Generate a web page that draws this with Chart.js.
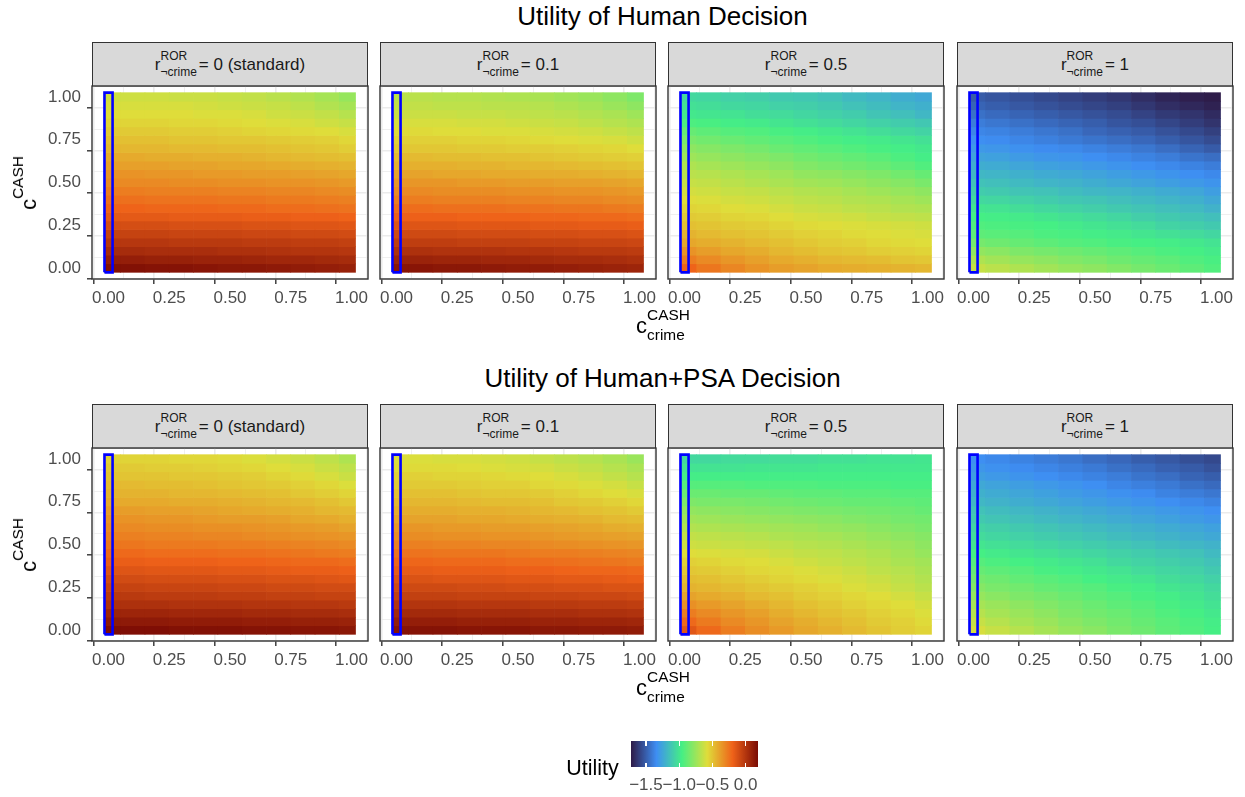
<!DOCTYPE html>
<html><head><meta charset="utf-8">
<script src="https://cdn.jsdelivr.net/npm/chart.js@4.4.1/dist/chart.umd.min.js"></script>
<style>
html,body{margin:0;padding:0;background:#fff;}
body{width:1245px;height:797px;position:relative;overflow:hidden;font-family:"Liberation Sans",Arial,Helvetica,sans-serif;}
canvas{position:absolute;}
.abs{position:absolute;white-space:nowrap;line-height:1;}
.strip{position:absolute;background:#d9d9d9;border:1px solid #333;box-sizing:border-box;}
.scr{display:inline-grid;vertical-align:baseline;}
.scr>span{grid-area:1/1;position:relative;justify-self:start;}
</style>
</head><body>
<script>
// ---------------- data ----------------
const X_VALUES=[0,0.1,0.2,0.3,0.4,0.5,0.6,0.7,0.8,0.9,1];
const Y_VALUES=[0,0.05,0.1,0.15,0.2,0.25,0.3,0.35,0.4,0.45,0.5,0.55,0.6,0.65,0.7,0.75,0.8,0.85,0.9,0.95,1];
const AXIS_TICKS=[0,0.125,0.25,0.375,0.5,0.625,0.75,0.875,1];
const LEGEND_TICKS=[-1.5,-1,-0.5,0];
const FILL_LIMITS=[-1.725,0.185];
const R_LABELS=['0 (standard)','0.1','0.5','1'];
const ROW_TITLES=['Utility of Human Decision','Utility of Human+PSA Decision'];
const HIGHLIGHT_X=0;

// rows: y = 0 ... 1 ; columns: x = 0 ... 1
const HUMAN_R0=[
[0.16,0.16,0.15,0.15,0.14,0.13,0.13,0.12,0.11,0.10,0.09],
[0.10,0.10,0.09,0.09,0.08,0.08,0.07,0.06,0.06,0.05,0.04],
[0.04,0.04,0.03,0.03,0.03,0.02,0.02,0.01,0.00,0.00,-0.01],
[-0.01,-0.01,-0.01,-0.02,-0.02,-0.02,-0.03,-0.03,-0.04,-0.04,-0.05],
[-0.06,-0.06,-0.06,-0.07,-0.07,-0.07,-0.08,-0.08,-0.09,-0.09,-0.10],
[-0.11,-0.11,-0.11,-0.12,-0.12,-0.12,-0.13,-0.13,-0.14,-0.14,-0.15],
[-0.16,-0.16,-0.16,-0.17,-0.17,-0.17,-0.18,-0.18,-0.19,-0.19,-0.20],
[-0.20,-0.20,-0.21,-0.21,-0.21,-0.22,-0.22,-0.23,-0.23,-0.24,-0.25],
[-0.24,-0.24,-0.25,-0.25,-0.25,-0.26,-0.26,-0.27,-0.27,-0.28,-0.29],
[-0.28,-0.28,-0.29,-0.29,-0.29,-0.30,-0.30,-0.31,-0.31,-0.32,-0.33],
[-0.32,-0.32,-0.32,-0.33,-0.33,-0.34,-0.34,-0.35,-0.35,-0.36,-0.37],
[-0.35,-0.35,-0.36,-0.36,-0.37,-0.37,-0.38,-0.38,-0.39,-0.40,-0.41],
[-0.39,-0.39,-0.39,-0.40,-0.40,-0.41,-0.41,-0.42,-0.43,-0.44,-0.45],
[-0.42,-0.42,-0.43,-0.43,-0.44,-0.44,-0.45,-0.46,-0.47,-0.48,-0.49],
[-0.46,-0.46,-0.46,-0.47,-0.47,-0.48,-0.48,-0.49,-0.50,-0.51,-0.53],
[-0.49,-0.49,-0.49,-0.50,-0.50,-0.51,-0.51,-0.52,-0.53,-0.54,-0.56],
[-0.52,-0.52,-0.52,-0.53,-0.53,-0.54,-0.55,-0.56,-0.57,-0.58,-0.60],
[-0.55,-0.55,-0.55,-0.56,-0.56,-0.57,-0.58,-0.59,-0.60,-0.62,-0.64],
[-0.58,-0.58,-0.58,-0.58,-0.59,-0.59,-0.60,-0.62,-0.63,-0.65,-0.68],
[-0.60,-0.60,-0.60,-0.60,-0.61,-0.62,-0.63,-0.64,-0.66,-0.69,-0.72],
[-0.62,-0.62,-0.62,-0.63,-0.63,-0.64,-0.65,-0.67,-0.69,-0.72,-0.76]];

const HUMAN_R01=[
[0.14,0.14,0.13,0.13,0.12,0.11,0.11,0.10,0.09,0.08,0.07],
[0.08,0.08,0.07,0.07,0.06,0.06,0.05,0.04,0.04,0.03,0.02],
[0.02,0.02,0.01,0.01,0.01,0.00,0.00,-0.01,-0.02,-0.02,-0.03],
[-0.04,-0.04,-0.04,-0.05,-0.05,-0.05,-0.06,-0.06,-0.07,-0.07,-0.08],
[-0.09,-0.09,-0.09,-0.10,-0.10,-0.10,-0.11,-0.11,-0.12,-0.12,-0.13],
[-0.14,-0.14,-0.14,-0.15,-0.15,-0.15,-0.16,-0.16,-0.17,-0.17,-0.18],
[-0.19,-0.19,-0.19,-0.20,-0.20,-0.20,-0.21,-0.21,-0.22,-0.22,-0.23],
[-0.23,-0.23,-0.24,-0.24,-0.24,-0.25,-0.25,-0.26,-0.26,-0.27,-0.28],
[-0.28,-0.28,-0.29,-0.29,-0.29,-0.30,-0.30,-0.31,-0.31,-0.32,-0.33],
[-0.32,-0.32,-0.33,-0.33,-0.33,-0.34,-0.34,-0.35,-0.35,-0.36,-0.37],
[-0.36,-0.36,-0.36,-0.37,-0.37,-0.38,-0.38,-0.39,-0.39,-0.40,-0.41],
[-0.40,-0.40,-0.41,-0.41,-0.42,-0.42,-0.43,-0.43,-0.44,-0.45,-0.46],
[-0.44,-0.44,-0.44,-0.45,-0.45,-0.46,-0.46,-0.47,-0.48,-0.49,-0.50],
[-0.47,-0.47,-0.48,-0.48,-0.49,-0.49,-0.50,-0.51,-0.52,-0.53,-0.54],
[-0.51,-0.51,-0.51,-0.52,-0.52,-0.53,-0.53,-0.54,-0.55,-0.56,-0.58],
[-0.54,-0.54,-0.54,-0.55,-0.55,-0.56,-0.57,-0.58,-0.59,-0.60,-0.62],
[-0.57,-0.57,-0.58,-0.58,-0.59,-0.59,-0.60,-0.61,-0.62,-0.64,-0.66],
[-0.60,-0.60,-0.60,-0.61,-0.61,-0.62,-0.63,-0.64,-0.66,-0.68,-0.70],
[-0.63,-0.63,-0.63,-0.64,-0.64,-0.65,-0.66,-0.67,-0.69,-0.71,-0.74],
[-0.65,-0.65,-0.66,-0.66,-0.67,-0.67,-0.68,-0.70,-0.72,-0.75,-0.78],
[-0.67,-0.67,-0.68,-0.68,-0.69,-0.70,-0.71,-0.73,-0.75,-0.78,-0.82]];

const HUMAN_R05=[
[-0.20,-0.26,-0.31,-0.35,-0.38,-0.40,-0.42,-0.43,-0.44,-0.45,-0.46],
[-0.28,-0.32,-0.36,-0.39,-0.42,-0.44,-0.46,-0.47,-0.48,-0.50,-0.51],
[-0.35,-0.38,-0.41,-0.43,-0.46,-0.48,-0.50,-0.51,-0.53,-0.54,-0.55],
[-0.41,-0.43,-0.45,-0.47,-0.49,-0.51,-0.53,-0.54,-0.56,-0.57,-0.58],
[-0.45,-0.47,-0.49,-0.50,-0.52,-0.54,-0.55,-0.57,-0.58,-0.59,-0.60],
[-0.49,-0.50,-0.52,-0.53,-0.55,-0.57,-0.58,-0.59,-0.60,-0.61,-0.62],
[-0.52,-0.53,-0.55,-0.56,-0.58,-0.60,-0.61,-0.62,-0.64,-0.65,-0.66],
[-0.55,-0.56,-0.58,-0.59,-0.61,-0.63,-0.64,-0.66,-0.67,-0.69,-0.70],
[-0.58,-0.59,-0.61,-0.62,-0.64,-0.66,-0.67,-0.69,-0.70,-0.72,-0.74],
[-0.61,-0.62,-0.64,-0.65,-0.67,-0.69,-0.70,-0.72,-0.74,-0.76,-0.78],
[-0.64,-0.65,-0.67,-0.69,-0.71,-0.73,-0.74,-0.76,-0.78,-0.80,-0.83],
[-0.67,-0.68,-0.70,-0.72,-0.74,-0.77,-0.78,-0.80,-0.82,-0.85,-0.88],
[-0.70,-0.72,-0.74,-0.76,-0.78,-0.81,-0.83,-0.85,-0.87,-0.90,-0.93],
[-0.74,-0.76,-0.78,-0.80,-0.82,-0.85,-0.87,-0.89,-0.91,-0.94,-0.97],
[-0.78,-0.80,-0.82,-0.84,-0.87,-0.89,-0.91,-0.93,-0.95,-0.97,-0.99],
[-0.83,-0.85,-0.87,-0.89,-0.91,-0.93,-0.95,-0.97,-0.98,-1.00,-1.02],
[-0.88,-0.90,-0.92,-0.93,-0.95,-0.97,-0.99,-1.01,-1.03,-1.05,-1.07],
[-0.94,-0.95,-0.97,-0.98,-1.00,-1.02,-1.04,-1.06,-1.08,-1.10,-1.12],
[-0.99,-1.00,-1.01,-1.03,-1.04,-1.06,-1.08,-1.10,-1.13,-1.15,-1.18],
[-1.02,-1.03,-1.05,-1.06,-1.08,-1.09,-1.11,-1.14,-1.16,-1.19,-1.21],
[-1.05,-1.06,-1.08,-1.09,-1.11,-1.12,-1.14,-1.17,-1.19,-1.22,-1.24]];

const HUMAN_R1=[
[-0.64,-0.67,-0.70,-0.73,-0.76,-0.78,-0.81,-0.84,-0.87,-0.90,-0.93],
[-0.70,-0.73,-0.76,-0.78,-0.81,-0.83,-0.86,-0.88,-0.90,-0.93,-0.95],
[-0.77,-0.79,-0.82,-0.84,-0.86,-0.88,-0.90,-0.92,-0.94,-0.96,-0.98],
[-0.84,-0.86,-0.88,-0.90,-0.92,-0.93,-0.95,-0.96,-0.97,-0.99,-1.01],
[-0.90,-0.91,-0.92,-0.94,-0.95,-0.97,-0.98,-1.00,-1.02,-1.04,-1.06],
[-0.93,-0.94,-0.95,-0.96,-0.98,-1.00,-1.02,-1.04,-1.07,-1.09,-1.11],
[-0.96,-0.97,-0.98,-1.00,-1.02,-1.04,-1.06,-1.09,-1.11,-1.13,-1.15],
[-1.00,-1.01,-1.03,-1.05,-1.07,-1.09,-1.11,-1.13,-1.15,-1.17,-1.20],
[-1.05,-1.06,-1.08,-1.10,-1.12,-1.13,-1.15,-1.17,-1.19,-1.21,-1.24],
[-1.10,-1.11,-1.13,-1.14,-1.16,-1.18,-1.19,-1.21,-1.23,-1.25,-1.28],
[-1.14,-1.15,-1.17,-1.19,-1.20,-1.22,-1.24,-1.26,-1.28,-1.30,-1.32],
[-1.18,-1.19,-1.21,-1.23,-1.24,-1.26,-1.28,-1.30,-1.32,-1.34,-1.36],
[-1.22,-1.23,-1.25,-1.27,-1.28,-1.30,-1.32,-1.34,-1.36,-1.38,-1.40],
[-1.26,-1.27,-1.29,-1.31,-1.32,-1.34,-1.36,-1.38,-1.40,-1.43,-1.45],
[-1.30,-1.31,-1.33,-1.35,-1.36,-1.38,-1.40,-1.42,-1.45,-1.48,-1.51],
[-1.34,-1.35,-1.37,-1.39,-1.41,-1.43,-1.45,-1.47,-1.50,-1.53,-1.56],
[-1.37,-1.38,-1.40,-1.42,-1.44,-1.47,-1.49,-1.51,-1.54,-1.57,-1.60],
[-1.40,-1.42,-1.44,-1.46,-1.48,-1.50,-1.53,-1.55,-1.58,-1.61,-1.64],
[-1.44,-1.46,-1.48,-1.50,-1.52,-1.54,-1.56,-1.59,-1.62,-1.64,-1.67],
[-1.48,-1.50,-1.52,-1.54,-1.56,-1.58,-1.60,-1.63,-1.66,-1.68,-1.70],
[-1.51,-1.53,-1.55,-1.57,-1.59,-1.61,-1.63,-1.66,-1.69,-1.71,-1.72]];

const PSA_R0=[
[0.17,0.17,0.17,0.16,0.16,0.16,0.15,0.15,0.14,0.14,0.13],
[0.12,0.12,0.12,0.11,0.11,0.11,0.10,0.10,0.09,0.09,0.08],
[0.07,0.07,0.07,0.06,0.06,0.06,0.05,0.05,0.04,0.04,0.03],
[0.02,0.02,0.02,0.01,0.01,0.01,0.00,0.00,-0.01,-0.01,-0.02],
[-0.02,-0.02,-0.03,-0.03,-0.03,-0.04,-0.04,-0.05,-0.05,-0.06,-0.06],
[-0.06,-0.06,-0.07,-0.07,-0.07,-0.08,-0.08,-0.09,-0.09,-0.10,-0.10],
[-0.10,-0.10,-0.11,-0.11,-0.11,-0.12,-0.12,-0.13,-0.13,-0.14,-0.15],
[-0.14,-0.14,-0.15,-0.15,-0.15,-0.16,-0.16,-0.17,-0.18,-0.18,-0.19],
[-0.18,-0.18,-0.19,-0.19,-0.19,-0.20,-0.20,-0.21,-0.22,-0.22,-0.23],
[-0.22,-0.22,-0.23,-0.23,-0.23,-0.24,-0.24,-0.25,-0.26,-0.27,-0.28],
[-0.26,-0.26,-0.27,-0.27,-0.27,-0.28,-0.28,-0.29,-0.30,-0.31,-0.32],
[-0.29,-0.29,-0.30,-0.30,-0.31,-0.31,-0.32,-0.33,-0.34,-0.35,-0.36],
[-0.32,-0.32,-0.33,-0.33,-0.34,-0.34,-0.35,-0.36,-0.37,-0.38,-0.40],
[-0.35,-0.35,-0.36,-0.36,-0.37,-0.38,-0.38,-0.39,-0.41,-0.42,-0.44],
[-0.38,-0.38,-0.39,-0.39,-0.40,-0.41,-0.42,-0.43,-0.44,-0.46,-0.47],
[-0.42,-0.42,-0.42,-0.43,-0.43,-0.44,-0.45,-0.46,-0.47,-0.49,-0.51],
[-0.45,-0.45,-0.45,-0.46,-0.46,-0.47,-0.48,-0.49,-0.51,-0.53,-0.55],
[-0.47,-0.47,-0.48,-0.48,-0.49,-0.50,-0.51,-0.52,-0.54,-0.56,-0.59],
[-0.50,-0.50,-0.50,-0.51,-0.51,-0.52,-0.53,-0.55,-0.57,-0.60,-0.63],
[-0.52,-0.52,-0.53,-0.53,-0.54,-0.55,-0.56,-0.58,-0.60,-0.63,-0.66],
[-0.55,-0.55,-0.55,-0.56,-0.56,-0.57,-0.59,-0.61,-0.63,-0.66,-0.70]];

const PSA_R01=[
[0.15,0.15,0.15,0.14,0.14,0.14,0.13,0.13,0.12,0.12,0.11],
[0.10,0.10,0.10,0.09,0.09,0.09,0.08,0.08,0.07,0.07,0.06],
[0.05,0.05,0.05,0.04,0.04,0.04,0.03,0.03,0.02,0.02,0.01],
[0.00,0.00,0.00,-0.01,-0.01,-0.01,-0.02,-0.02,-0.03,-0.03,-0.04],
[-0.05,-0.05,-0.05,-0.06,-0.06,-0.06,-0.07,-0.07,-0.08,-0.08,-0.09],
[-0.09,-0.09,-0.09,-0.10,-0.10,-0.11,-0.11,-0.12,-0.12,-0.13,-0.13],
[-0.13,-0.13,-0.14,-0.14,-0.14,-0.15,-0.15,-0.16,-0.16,-0.17,-0.18],
[-0.17,-0.17,-0.18,-0.18,-0.18,-0.19,-0.19,-0.20,-0.21,-0.21,-0.22],
[-0.21,-0.21,-0.22,-0.22,-0.22,-0.23,-0.23,-0.24,-0.25,-0.26,-0.27],
[-0.25,-0.25,-0.26,-0.26,-0.26,-0.27,-0.28,-0.28,-0.29,-0.30,-0.31],
[-0.29,-0.29,-0.30,-0.30,-0.31,-0.31,-0.32,-0.33,-0.34,-0.35,-0.36],
[-0.33,-0.33,-0.34,-0.34,-0.35,-0.35,-0.36,-0.37,-0.38,-0.39,-0.40],
[-0.36,-0.36,-0.37,-0.37,-0.38,-0.38,-0.39,-0.40,-0.41,-0.43,-0.44],
[-0.40,-0.40,-0.40,-0.41,-0.41,-0.42,-0.43,-0.44,-0.45,-0.47,-0.48],
[-0.43,-0.43,-0.43,-0.44,-0.44,-0.45,-0.46,-0.47,-0.49,-0.50,-0.52],
[-0.46,-0.46,-0.46,-0.47,-0.48,-0.48,-0.49,-0.51,-0.52,-0.54,-0.56],
[-0.49,-0.49,-0.49,-0.50,-0.51,-0.51,-0.52,-0.54,-0.56,-0.58,-0.60],
[-0.52,-0.52,-0.52,-0.53,-0.54,-0.54,-0.56,-0.57,-0.59,-0.61,-0.64],
[-0.54,-0.54,-0.55,-0.55,-0.56,-0.57,-0.58,-0.60,-0.62,-0.65,-0.68],
[-0.57,-0.57,-0.57,-0.58,-0.59,-0.60,-0.61,-0.63,-0.65,-0.68,-0.71],
[-0.59,-0.59,-0.60,-0.60,-0.61,-0.62,-0.64,-0.66,-0.68,-0.71,-0.75]];

const PSA_R05=[
[-0.15,-0.22,-0.28,-0.33,-0.37,-0.41,-0.44,-0.47,-0.50,-0.53,-0.55],
[-0.22,-0.27,-0.32,-0.36,-0.40,-0.43,-0.46,-0.49,-0.52,-0.54,-0.57],
[-0.28,-0.32,-0.36,-0.39,-0.43,-0.46,-0.49,-0.51,-0.54,-0.56,-0.59],
[-0.34,-0.37,-0.40,-0.43,-0.46,-0.49,-0.51,-0.54,-0.56,-0.58,-0.61],
[-0.40,-0.42,-0.44,-0.47,-0.49,-0.52,-0.54,-0.56,-0.58,-0.61,-0.64],
[-0.45,-0.46,-0.48,-0.50,-0.52,-0.54,-0.56,-0.59,-0.61,-0.64,-0.67],
[-0.48,-0.49,-0.51,-0.53,-0.55,-0.57,-0.59,-0.61,-0.63,-0.66,-0.69],
[-0.51,-0.52,-0.54,-0.56,-0.57,-0.59,-0.61,-0.63,-0.66,-0.68,-0.71],
[-0.54,-0.55,-0.57,-0.58,-0.60,-0.62,-0.64,-0.66,-0.68,-0.71,-0.73],
[-0.58,-0.59,-0.60,-0.61,-0.63,-0.65,-0.66,-0.68,-0.70,-0.73,-0.76],
[-0.62,-0.63,-0.64,-0.65,-0.66,-0.68,-0.69,-0.71,-0.73,-0.75,-0.78],
[-0.65,-0.66,-0.67,-0.68,-0.70,-0.71,-0.72,-0.74,-0.76,-0.78,-0.80],
[-0.69,-0.70,-0.71,-0.72,-0.73,-0.74,-0.76,-0.77,-0.79,-0.81,-0.83],
[-0.73,-0.74,-0.75,-0.76,-0.77,-0.78,-0.79,-0.81,-0.82,-0.84,-0.85],
[-0.77,-0.78,-0.79,-0.80,-0.81,-0.82,-0.83,-0.84,-0.85,-0.86,-0.88],
[-0.82,-0.83,-0.83,-0.84,-0.85,-0.86,-0.87,-0.88,-0.88,-0.89,-0.90],
[-0.87,-0.87,-0.88,-0.88,-0.89,-0.90,-0.90,-0.91,-0.91,-0.92,-0.92],
[-0.92,-0.92,-0.92,-0.93,-0.93,-0.93,-0.94,-0.94,-0.94,-0.95,-0.95],
[-0.97,-0.97,-0.97,-0.97,-0.97,-0.97,-0.97,-0.97,-0.97,-0.97,-0.97],
[-1.01,-1.01,-1.01,-1.00,-1.00,-1.00,-0.99,-0.99,-0.99,-0.99,-0.99],
[-1.05,-1.05,-1.04,-1.04,-1.03,-1.03,-1.02,-1.02,-1.01,-1.01,-1.00]];

const PSA_R1=[
[-0.60,-0.64,-0.68,-0.72,-0.76,-0.79,-0.83,-0.86,-0.90,-0.93,-0.96],
[-0.64,-0.68,-0.72,-0.75,-0.79,-0.82,-0.85,-0.88,-0.91,-0.94,-0.97],
[-0.68,-0.72,-0.75,-0.78,-0.82,-0.85,-0.87,-0.90,-0.93,-0.96,-0.99],
[-0.72,-0.75,-0.78,-0.81,-0.84,-0.87,-0.90,-0.92,-0.95,-0.98,-1.01],
[-0.76,-0.79,-0.82,-0.84,-0.87,-0.90,-0.92,-0.95,-0.97,-1.00,-1.03],
[-0.80,-0.83,-0.85,-0.88,-0.90,-0.92,-0.95,-0.97,-1.00,-1.02,-1.05],
[-0.84,-0.86,-0.89,-0.91,-0.93,-0.96,-0.98,-1.00,-1.03,-1.05,-1.08],
[-0.88,-0.90,-0.92,-0.95,-0.97,-0.99,-1.01,-1.04,-1.06,-1.08,-1.11],
[-0.92,-0.94,-0.96,-0.98,-1.00,-1.02,-1.05,-1.07,-1.09,-1.11,-1.14],
[-0.96,-0.98,-1.00,-1.02,-1.04,-1.06,-1.08,-1.10,-1.12,-1.14,-1.17],
[-1.00,-1.02,-1.04,-1.06,-1.08,-1.10,-1.12,-1.14,-1.16,-1.18,-1.20],
[-1.04,-1.06,-1.08,-1.10,-1.12,-1.14,-1.16,-1.18,-1.20,-1.22,-1.24],
[-1.07,-1.09,-1.11,-1.13,-1.15,-1.17,-1.19,-1.21,-1.23,-1.25,-1.27],
[-1.11,-1.13,-1.15,-1.17,-1.19,-1.21,-1.23,-1.25,-1.27,-1.29,-1.31],
[-1.14,-1.16,-1.18,-1.20,-1.22,-1.24,-1.26,-1.28,-1.30,-1.32,-1.34],
[-1.18,-1.20,-1.22,-1.24,-1.26,-1.28,-1.30,-1.32,-1.34,-1.36,-1.38],
[-1.21,-1.23,-1.25,-1.27,-1.29,-1.31,-1.33,-1.35,-1.38,-1.40,-1.42],
[-1.24,-1.26,-1.28,-1.30,-1.32,-1.34,-1.37,-1.39,-1.41,-1.44,-1.46],
[-1.28,-1.30,-1.32,-1.34,-1.36,-1.38,-1.40,-1.43,-1.45,-1.48,-1.50],
[-1.31,-1.33,-1.35,-1.37,-1.39,-1.41,-1.44,-1.46,-1.49,-1.51,-1.54],
[-1.34,-1.36,-1.38,-1.40,-1.42,-1.45,-1.47,-1.50,-1.52,-1.55,-1.57]];

const PANELS=[[HUMAN_R0,HUMAN_R01,HUMAN_R05,HUMAN_R1],[PSA_R0,PSA_R01,PSA_R05,PSA_R1]];

// ---------------- style / layout ----------------
const COLOR_STOPS=[[0,[46,26,71]],[0.2,[62,142,243]],[0.4,[69,239,132]],[0.6,[223,221,58]],[0.8,[239,98,25]],[1,[122,11,4]]];
const PANEL_LEFT=[92,380,668,957], PANEL_W=276, ROW_TOP=[86,448], PANEL_H=193, STRIP_H=44, ROW_SHIFT=362;
const TILE_HALF_X=1/60;
const X_LIM=[-0.068,1.068], Y_LIM=[-0.064,1.064];

function fillColor(v){
  let t=(v-FILL_LIMITS[0])/(FILL_LIMITS[1]-FILL_LIMITS[0]);
  t=Math.max(0,Math.min(1,t));
  for(let k=1;k<COLOR_STOPS.length;k++){
    const [t1,c1]=COLOR_STOPS[k], [t0,c0]=COLOR_STOPS[k-1];
    if(t<=t1){const f=(t-t0)/(t1-t0);
      return 'rgb('+c0.map((c,i)=>Math.round(c+(c1[i]-c)*f)).join(',')+')';}
  }
  return 'rgb('+COLOR_STOPS[COLOR_STOPS.length-1][1].join(',')+')';
}
const isMajor=v=>Math.abs(v*4-Math.round(v*4))<1e-9;

// tile edges along x (midpoints between sampled columns)
const X_EDGES=[X_VALUES[0]-TILE_HALF_X];
for(let k=1;k<X_VALUES.length;k++) X_EDGES.push((X_VALUES[k-1]+X_VALUES[k])/2);
X_EDGES.push(X_VALUES[X_VALUES.length-1]+TILE_HALF_X);
const TILE_HALF_Y=(Y_VALUES[1]-Y_VALUES[0])/2;

Chart.defaults.font.family='"Liberation Sans", Arial, Helvetica, sans-serif';
Chart.defaults.font.size=17;
Chart.defaults.color='#4d4d4d';

const panelBorder={id:'panelBorder',afterDraw(chart){
  const a=chart.chartArea,ctx=chart.ctx;ctx.save();ctx.strokeStyle='#333333';ctx.lineWidth=1.4;
  ctx.strokeRect(a.left,a.top,a.right-a.left,a.bottom-a.top);ctx.restore();}};

function makePanel(grid,row,col){
  const PAD_L=60,PAD_T=25,PAD_R=25,PAD_B=45,Y_W=col===0?60:0,X_H=30;
  const cv=document.createElement('canvas');
  cv.width=PANEL_W+PAD_L+PAD_R; cv.height=PANEL_H+PAD_T+PAD_B;
  cv.style.left=(PANEL_LEFT[col]-PAD_L)+'px'; cv.style.top=(ROW_TOP[row]-PAD_T)+'px';
  document.body.appendChild(cv);
  const cells=[],colors=[];
  Y_VALUES.forEach((y,i)=>X_VALUES.forEach((x,j)=>{
    cells.push({x:[X_EDGES[j],X_EDGES[j+1]],y:y}); colors.push(fillColor(grid[i][j]));}));
  const rx0=HIGHLIGHT_X-TILE_HALF_X, rx1=HIGHLIGHT_X+TILE_HALF_X;
  const ry0=Y_VALUES[0]-TILE_HALF_Y, ry1=Y_VALUES[Y_VALUES.length-1]+TILE_HALF_Y;
  const gridOpts=(showTicks)=>({color:'#ebebeb',lineWidth:c=>(c.tick&&isMajor(c.tick.value))?1.6:0.8,
    drawTicks:showTicks,tickLength:5,tickWidth:1.4,
    tickColor:c=>(c.tick&&isMajor(c.tick.value))?'#333333':'rgba(0,0,0,0)'});
  new Chart(cv,{type:'bar',
    data:{datasets:[
      {type:'bar',indexAxis:'y',data:cells,backgroundColor:colors,borderWidth:0,
       barPercentage:1,categoryPercentage:1,order:2,xAxisID:'x',yAxisID:'y'},
      {type:'scatter',data:[{x:rx0,y:ry0},{x:rx1,y:ry0},{x:rx1,y:ry1},{x:rx0,y:ry1},{x:rx0,y:ry0}],
       showLine:true,borderColor:'#0000ff',borderWidth:2.6,pointRadius:0,borderJoinStyle:'miter',
       fill:false,order:1,xAxisID:'x',yAxisID:'y'}]},
    options:{responsive:false,animation:false,events:[],
      layout:{autoPadding:false,padding:{left:PAD_L-Y_W,right:PAD_R,top:PAD_T,bottom:PAD_B-X_H}},
      plugins:{legend:{display:false},tooltip:{enabled:false}},
      scales:{
        x:{type:'linear',min:X_LIM[0],max:X_LIM[1],offset:false,
          afterBuildTicks:s=>{s.ticks=AXIS_TICKS.map(v=>({value:v}));},
          afterFit:s=>{s.height=X_H;},
          ticks:{autoSkip:false,maxRotation:0,minRotation:0,padding:4,color:'#4d4d4d',
            callback:v=>isMajor(v)?v.toFixed(2):''},
          grid:gridOpts(true),border:{display:false}},
        y:{type:'linear',min:Y_LIM[0],max:Y_LIM[1],offset:false,
          afterBuildTicks:s=>{s.ticks=AXIS_TICKS.map(v=>({value:v}));},
          afterFit:s=>{s.width=Y_W;},
          ticks:{display:col===0,autoSkip:false,padding:6,color:'#4d4d4d',
            callback:v=>isMajor(v)?v.toFixed(2):''},
          grid:gridOpts(col===0),border:{display:false}}
      }},
    plugins:[panelBorder]});
}

// ---------------- text helpers ----------------
function addText(html,left,baseline,size,extra){
  const d=document.createElement('div');d.className='abs';
  d.style.fontSize=size+'px';d.style.left=left+'px';d.style.top=(baseline-0.8465*size)+'px';
  d.style.transform='translateX(-50%)';d.innerHTML=html;
  if(extra) Object.assign(d.style,extra);
  document.body.appendChild(d);return d;
}
function scripts(sup,sub,size,rise,drop){
  let h='<span class="scr" style="font-size:'+size+'px">';
  if(sup) h+='<span style="top:'+(-rise)+'px">'+sup+'</span>';
  if(sub) h+='<span style="top:'+drop+'px">'+sub+'</span>';
  return h+'</span>';
}

for(let row=0;row<2;row++){
  const off=row*ROW_SHIFT;
  addText(ROW_TITLES[row],662.5,25+off,26,{color:'#000'});
  for(let col=0;col<4;col++){
    const s=document.createElement('div');s.className='strip';
    s.style.left=PANEL_LEFT[col]+'px';s.style.top=(ROW_TOP[row]-STRIP_H)+'px';
    s.style.width=PANEL_W+'px';s.style.height=(STRIP_H+1)+'px';
    document.body.appendChild(s);
    addText('r'+scripts('ROR','\u00accrime',12,10,5.3)+'<span style="margin-left:2px">=</span> '+R_LABELS[col],
      PANEL_LEFT[col]+PANEL_W/2,70.7+off,17,{color:'#1a1a1a'});
  }
  for(let col=0;col<4;col++) makePanel(PANELS[row][col],row,col);
  // x-axis title
  addText('c'+scripts('CASH','crime',15.4,12.6,7.4),663,333.3+off,22,{color:'#000'});
  // y-axis title (rotated)
  const yt=document.createElement('div');yt.className='abs';yt.style.fontSize='22px';
  yt.style.left='29.1px';yt.style.top=(ROW_TOP[row]+PANEL_H/2)+'px';
  yt.style.transform='translate(-50%,-50%) rotate(-90deg)';
  yt.innerHTML='c'+scripts('CASH','',15.4,12.6,0);
  document.body.appendChild(yt);
}

// ---------------- colour bar legend ----------------
const BAR_L=631,BAR_W=127,BAR_T=741,BAR_H=26;
const bar=document.createElement('div');bar.className='abs';
Object.assign(bar.style,{left:BAR_L+'px',top:BAR_T+'px',width:BAR_W+'px',height:BAR_H+'px',
  background:'linear-gradient(to right,'+COLOR_STOPS.map(s=>'rgb('+s[1].join(',')+') '+(s[0]*100)+'%').join(',')+')'});
document.body.appendChild(bar);
const legX=v=>BAR_L+(v-FILL_LIMITS[0])/(FILL_LIMITS[1]-FILL_LIMITS[0])*BAR_W;
LEGEND_TICKS.forEach(v=>{
  const px=legX(v);
  [BAR_T,BAR_T+BAR_H-4.5].forEach(t=>{const k=document.createElement('div');k.className='abs';
    Object.assign(k.style,{left:(px-0.6)+'px',top:t+'px',width:'1.2px',height:'4.5px',background:'#fff'});
    document.body.appendChild(k);});
  addText((v<0?'\u2212':'')+Math.abs(v).toFixed(1),px,790,17,{color:'#4d4d4d'});
});
addText('Utility',592.5,775.7,21.5,{color:'#000'});
</script>
</body></html>
